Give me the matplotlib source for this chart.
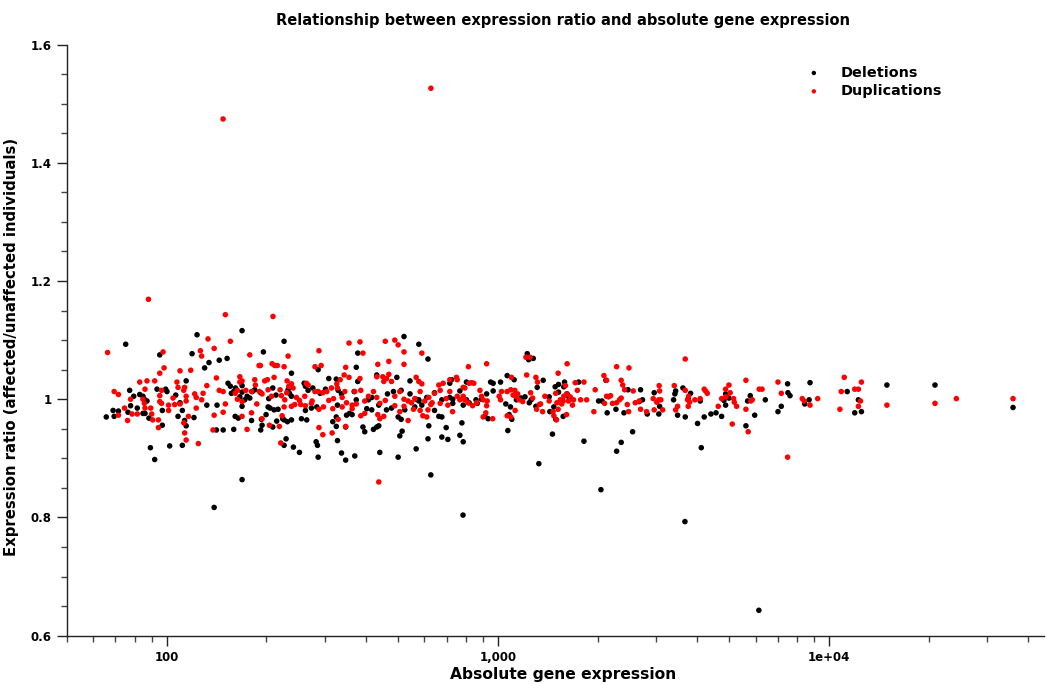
import matplotlib
matplotlib.use("Agg")
import matplotlib.pyplot as plt
from matplotlib.ticker import FixedLocator, FixedFormatter

# ---------------- data ----------------
# Deletions: absolute expression, expression ratio
del_expr = [
    65.7, 68.9, 69.4, 71.5, 75.2, 77.3, 77.8, 76.4, 79.5, 81.5, 82.9, 84.8, 85.6, 87.2, 84.8, 86.0,
    88.4, 89.3, 92.0, 93.5, 95.3, 97.0, 97.0, 99.3, 100.2, 102.1, 106.5, 108.2, 109.7, 111.5, 111.5,
    113.3, 114.5, 114.5, 119.3, 123.5, 120.9, 130.2, 134.2, 132.2, 141.9, 144.1, 152.2, 139.1, 141.3,
    148.1, 153.2, 155.7, 156.8, 159.4, 159.4, 161.4, 168.9, 168.9, 168.9, 168.9, 172.1, 166.3, 161.0,
    164.5, 168.9, 174.9, 178.2, 180.4, 181.5,
    226.2, 195.9, 286.7, 373.7, 377.6, 520.8, 577.3, 615.2, 238.1, 308.7, 325.2, 377.6, 430.9, 495.4,
    542.9, 716.1, 724.4,
    184.5, 192.3, 203.3, 209.1, 213.9, 232.6, 234.8, 238.1, 260.0, 262.4, 267.3, 276.2, 290.7, 301.7,
    329.4, 337.2, 368.2, 373.7, 406.7, 416.2, 464.3, 484.0, 510.5, 542.9, 566.7, 577.3, 610.3, 643.8,
    677.5, 716.1, 731.1,
    193.2, 199.6, 202.4, 205.2, 211.0, 216.9, 224.1, 231.5, 238.1, 255.2, 262.4, 264.8, 273.6, 284.0,
    317.4, 327.9, 325.2, 349.2, 356.5, 363.1, 402.0, 416.2, 437.0, 461.1, 477.4, 500.0, 510.5, 523.6,
    561.4, 577.3, 589.5, 643.8, 663.5, 677.5, 731.1,
    194.1, 209.1, 214.9, 226.2, 325.2, 347.1, 391.4, 396.4, 421.1, 430.9, 437.0, 514.0, 505.8, 618.8,
    698.3, 229.4, 226.2, 241.4, 251.7, 282.7, 285.3, 327.9, 286.7, 337.2, 347.1, 369.8, 440.1, 500.0,
    566.7, 615.2, 677.5, 706.4, 627.5, 192.3,
    1227, 1279, 1239, 1067, 1120, 951, 968, 1019, 804, 768, 786, 804, 819, 859, 867, 893, 925, 968,
    914, 935, 1057, 1092, 1102, 1082, 1138, 1175, 1208, 1244, 1261, 1303, 1315, 1371, 1429, 1436,
    1476, 1496, 1490, 1525, 1525, 1590, 1582, 1619, 1636, 1575, 1754, 2015, 2063, 2120, 2139, 2273,
    2472, 2698, 2735, 2673, 2404, 2826, 779, 768, 786, 1072, 1462, 1820, 2553, 2358, 2284, 1330, 2048,
    2966, 3080, 3063, 3394, 3425, 3443, 3490, 3622, 3681, 3820, 3758, 4084, 4010, 4200, 4401, 4560,
    4740, 4115, 4874, 4988, 4874, 4816, 5613, 5680, 5785, 5966, 6422, 7015, 7178, 7500, 7516, 7627,
    8451, 8710, 8765,
    11350, 12270, 11960, 12530, 14960, 20900, 35960,
    785, 3673, 6141,
]
del_ratio = [
    0.970, 0.981, 0.971, 0.980, 1.093, 1.015, 0.989, 0.978, 1.005, 0.985, 1.008, 1.005, 1.000, 0.997, 0.976, 0.976,
    0.968, 0.918, 0.898, 1.017, 1.075, 0.981, 0.956, 1.017, 1.013, 0.921, 1.007, 0.971, 0.994, 0.981, 0.922,
    0.964, 0.955, 1.031, 1.077, 1.109, 0.969, 1.053, 1.062, 0.990, 0.990, 1.066, 1.069, 0.817, 0.948,
    0.948, 1.027, 1.022, 1.010, 0.949, 1.013, 1.019, 1.116, 1.023, 1.012, 0.988, 0.999, 1.004, 0.971,
    0.968, 0.864, 1.005, 1.002, 0.964, 1.013,
    1.098, 1.080, 1.050, 1.054, 1.078, 1.106, 1.093, 1.068, 1.044, 1.035, 1.034, 1.030, 1.041, 1.037,
    1.031, 1.027, 1.033,
    1.016, 1.011, 1.001, 1.019, 1.007, 1.016, 1.010, 1.005, 1.027, 1.022, 1.015, 1.019, 1.010, 1.017,
    1.015, 1.009, 1.013, 0.999, 0.999, 1.003, 1.009, 1.013, 1.015, 1.009, 1.000, 0.997, 1.003, 1.011,
    0.999, 1.003, 1.000,
    0.966, 0.974, 0.987, 0.985, 0.982, 0.983, 0.967, 0.962, 0.965, 0.967, 0.981, 0.965, 0.985, 0.987,
    0.962, 0.990, 0.970, 0.973, 0.976, 0.974, 0.984, 0.982, 0.990, 0.982, 0.985, 0.970, 0.966, 0.982,
    0.987, 0.999, 0.990, 0.981, 0.971, 0.970, 0.993,
    0.956, 0.953, 0.963, 0.965, 0.954, 0.953, 0.953, 0.945, 0.949, 0.953, 0.955, 0.946, 0.938, 0.955,
    0.952, 0.933, 0.922, 0.919, 0.910, 0.928, 0.922, 0.930, 0.902, 0.909, 0.897, 0.904, 0.910, 0.902,
    0.916, 0.933, 0.936, 0.932, 0.872, 0.948,
    1.077, 1.069, 1.067, 1.040, 1.033, 1.029, 1.027, 1.029, 1.029, 1.014, 0.990, 0.999, 0.994, 0.999, 0.993, 1.000, 1.009, 1.014,
    0.971, 0.967, 0.992, 0.987, 0.966, 0.974, 0.999, 1.002, 1.004, 0.994, 0.999, 0.988, 1.020, 1.032, 1.004, 0.979,
    0.987, 0.966, 1.021, 1.025, 1.012, 1.029, 1.021, 1.009, 1.004, 0.971, 1.029, 0.997, 0.997, 1.032, 0.977, 0.983,
    1.016, 1.016, 0.999, 0.996, 0.977, 0.975, 0.960, 0.939, 0.928, 0.947, 0.941, 0.929, 0.945, 0.927, 0.912, 0.891, 0.847,
    1.011, 0.988, 0.975, 0.999, 1.009, 1.014, 0.973, 1.019, 0.970, 1.010, 1.001, 0.997, 0.959, 0.970, 0.975, 0.977,
    0.971, 0.918, 1.009, 1.002, 0.990, 0.998, 0.955, 0.997, 1.006, 0.973, 0.999, 0.979, 0.988, 1.026, 1.011, 1.006,
    0.992, 0.999, 1.028,
    1.013, 0.999, 0.977, 0.979, 1.024, 1.024, 0.986,
    0.804, 0.793, 0.643,
]

# Duplications: absolute expression, expression ratio
dup_expr = [
    88.1, 66.3, 69.4, 71.5, 71.5, 76.2, 74.6, 77.8, 78.6, 81.5, 82.9, 86.0, 87.2, 84.8, 85.6, 86.0,
    89.5, 90.1, 90.7, 92.0, 95.3, 97.5, 98.2, 94.4, 94.4, 95.3, 96.5, 96.5, 95.3, 101.3, 101.3, 104.5,
    105.7, 107.4, 108.2, 109.7, 109.7, 112.6, 113.3, 114.5, 114.5, 112.6, 113.3, 114.5, 116.3, 118.2,
    121.5, 122.8, 122.8, 124.6, 126.4, 127.5, 127.5, 128.8, 132.2, 133.3, 139.1, 139.1, 141.3, 138.0,
    144.1, 148.1, 148.1, 150.4, 150.4, 155.7, 161.0, 163.5, 163.5, 166.3, 166.3, 168.9, 168.9, 168.9,
    173.3, 174.9, 178.2, 180.4, 180.4, 185.3, 190.1,
    148.0, 628, 209.4,
    355.3, 383.4, 457.3, 488.5, 500.0, 288.3, 232.6, 391.4, 520.8, 589.5, 191.9, 208.1, 212.0, 215.9,
    226.2, 280.4, 292.7, 347.1, 434.0, 468.6, 520.8,
    184.5, 197.7, 201.4, 211.0, 231.0, 238.1, 240.8, 343.5, 334.1, 355.3, 383.4, 326.4, 327.9, 314.5,
    264.2, 267.3, 430.9, 449.4, 461.1, 468.6, 477.4, 452.5, 566.7, 577.3, 589.5, 663.5, 683.8, 716.1,
    190.5, 194.1, 202.4, 207.2, 220.0, 222.0, 227.3, 230.4, 233.7, 246.5, 251.7, 261.2, 274.9, 280.4,
    286.7, 296.1, 304.5, 308.7, 318.9, 338.8, 345.1, 349.2, 363.1, 369.8, 385.6, 396.4, 406.7, 421.1,
    430.9, 440.1, 457.3, 488.5, 505.8, 520.8, 535.9, 548.6, 561.4, 582.6, 601.9, 618.8, 633.4, 643.8,
    669.7, 698.3, 716.1,
    187.1, 194.1, 204.3, 218.9, 223.1, 226.2, 238.1, 243.6, 254.0, 262.4, 273.6, 288.3, 297.5, 317.4,
    329.4, 338.8, 363.1, 373.7, 385.6, 396.4, 434.0, 440.1, 452.5, 488.5, 505.8, 520.8, 535.9, 556.3,
    582.6, 593.6, 610.3, 615.2, 627.5, 669.7, 706.4,
    288.3, 296.1, 316.0, 347.1, 221.0, 437.0,
    815, 925, 750, 754, 730, 786, 795, 819, 833, 846, 754, 768, 786, 795, 813, 839, 863, 883, 893, 903,
    925, 929, 903, 920, 965, 1009, 1019, 1026, 1067, 1094, 1099, 1112, 1125, 1133, 1148, 1159, 1189,
    1222, 1067, 1094, 1128, 1216, 1250, 1303, 1318, 1256, 1274, 1334, 1346, 1309, 1365, 1387, 1429,
    1521, 1469, 1476, 1503, 1496, 1508, 1521, 1544, 1559, 1575, 1582, 1600, 1613, 1634, 1654, 1680,
    1693, 1619, 1738, 1713, 1820, 1778, 1854, 1613, 1968, 1950, 2091, 2130, 2100, 2130, 2160, 2190,
    2220, 2284, 2330, 2358, 2284, 2489, 2358, 2383, 2415, 2564, 2483, 2460, 2600, 2673, 2698, 2813,
    3681, 3070, 3080, 2946, 3020, 3063, 3107, 2966, 3145, 3410, 3490, 3443, 3681, 3767, 3741, 3794,
    3758, 3936, 4084, 4200, 4290, 4240, 4630, 4740, 4874, 4988, 5031, 4887, 5152, 5176, 5260, 5105,
    5613, 5613, 5702, 5810, 5865, 6156, 6280, 7015, 7178, 7500, 8303, 8418, 8765, 9246,
    11120, 10890, 10790, 11960, 12270, 12530, 12450, 12270, 14960, 20900, 24250, 35960,
]
dup_ratio = [
    1.169, 1.079, 1.013, 1.008, 0.973, 0.964, 0.985, 1.000, 0.975, 0.975, 1.029, 1.017, 1.031, 1.000, 0.993, 0.985,
    0.985, 0.975, 0.965, 1.031, 1.044, 1.080, 1.053, 0.965, 0.952, 1.006, 1.015, 0.993, 0.996, 0.990, 0.981, 1.002,
    0.991, 1.029, 1.020, 1.048, 0.992, 1.015, 1.020, 1.005, 0.997, 0.960, 0.943, 0.931, 0.971, 1.049,
    1.009, 1.003, 0.985, 0.925, 1.082, 1.073, 0.999, 1.010, 1.023, 1.102, 1.086, 0.973, 1.036, 0.948,
    1.015, 1.013, 0.978, 0.992, 1.143, 1.098, 1.010, 1.015, 1.000, 1.038, 1.029, 1.031, 0.971, 0.996,
    1.015, 0.949, 1.075, 1.013, 0.977, 1.024, 1.057,
    1.474, 1.526, 1.140,
    1.095, 1.097, 1.098, 1.100, 1.092, 1.082, 1.073, 1.078, 1.080, 1.078, 1.057, 1.060, 1.057, 1.057,
    1.055, 1.055, 1.057, 1.054, 1.059, 1.064, 1.059,
    1.033, 1.031, 1.033, 1.037, 1.031, 1.026, 1.019, 1.041, 1.033, 1.037, 1.035, 1.026, 1.019, 1.019,
    1.027, 1.024, 1.038, 1.038, 1.035, 1.042, 1.030, 1.030, 1.037, 1.030, 1.026, 1.024, 1.027, 1.033,
    1.013, 1.009, 1.016, 1.005, 1.016, 1.006, 0.999, 1.011, 1.022, 1.003, 0.998, 1.005, 0.997, 1.013,
    1.013, 1.011, 1.013, 0.998, 1.001, 1.003, 1.013, 0.994, 0.990, 1.013, 1.015, 0.997, 1.005, 1.013,
    1.003, 0.993, 0.998, 1.005, 1.013, 1.000, 0.997, 0.994, 1.001, 1.013, 0.997, 1.003, 0.994, 1.010,
    1.015, 1.001, 1.013,
    0.992, 0.967, 0.956, 0.954, 0.972, 0.987, 0.988, 0.991, 0.991, 0.989, 0.993, 0.983, 0.987, 0.984,
    0.966, 0.987, 0.984, 0.992, 0.972, 0.976, 0.974, 0.967, 0.971, 0.989, 0.979, 0.988, 0.964, 0.983,
    0.981, 0.972, 0.970, 0.982, 0.991, 0.993, 0.990,
    0.952, 0.940, 0.943, 0.954, 0.926, 0.860,
    1.055, 1.060, 1.037, 1.033, 0.979, 1.020, 1.019, 1.027, 1.028, 1.027, 1.005, 0.999, 1.005, 0.999, 0.994, 0.989, 0.994, 1.015, 1.005, 0.999,
    0.989, 0.997, 0.970, 0.977, 0.967, 1.005, 0.999, 1.013, 1.013, 1.016, 1.037, 1.007, 1.015, 1.005, 1.009, 0.999, 0.996,
    1.041, 0.972, 0.970, 0.981, 1.071, 1.071, 1.037, 1.029, 1.011, 1.002, 0.991, 0.992, 0.983, 0.979, 1.005, 0.997,
    1.044, 0.979, 0.972, 0.965, 1.010, 0.994, 0.983, 0.999, 0.992, 0.997, 1.005, 1.023, 1.009, 0.997, 1.004, 0.990,
    0.999, 1.060, 1.015, 1.028, 1.029, 0.999, 0.999, 0.974, 1.016, 0.979, 1.040, 1.032, 0.993, 1.005, 1.004, 1.006,
    0.993, 0.994, 0.999, 1.002, 1.055, 1.053, 1.032, 1.024, 1.016, 1.014, 0.979, 0.991, 0.994, 0.997, 0.983, 0.979,
    1.068, 1.023, 1.014, 1.001, 0.995, 0.999, 0.999, 0.982, 0.982, 1.023, 0.988, 0.982, 1.015, 1.005, 0.999, 0.995,
    0.988, 0.999, 1.001, 1.017, 1.010, 1.014, 0.988, 1.001, 1.017, 1.024, 1.011, 1.004, 1.001, 0.995, 0.988, 0.958,
    1.032, 0.983, 0.945, 0.997, 0.999, 1.017, 1.017, 1.029, 1.010, 0.902, 1.001, 0.997, 0.990, 1.001,
    1.037, 1.013, 0.983, 1.017, 1.017, 1.029, 0.997, 0.988, 0.990, 0.993, 1.001, 1.001,
]

series_names = ["Deletions", "Duplications"]
series_colors = ["#000000", "#ff0000"]

y_ticks = [0.6, 0.8, 1.0, 1.2, 1.4, 1.6]
y_tick_labels = ["0.6", "0.8", "1", "1.2", "1.4", "1.6"]
x_ticks = [100, 1000, 10000]
x_tick_labels = ["100", "1,000", "1e+04"]

title = "Relationship between expression ratio and absolute gene expression"
x_label = "Absolute gene expression"
y_label = "Expression ratio (affected/unaffected individuals)"

# ---------------- figure ----------------
W, H = 1046, 684
plt.rcParams["font.family"] = ["DejaVu Sans"]
fig = plt.figure(figsize=(W / 100, H / 100), dpi=100)
ax = fig.add_axes([67 / W, (H - 635.7) / H, 977 / W, (635.7 - 44.5) / H])

for xs, ys, name, col in [(del_expr, del_ratio, series_names[0], series_colors[0]),
                          (dup_expr, dup_ratio, series_names[1], series_colors[1])]:
    ax.scatter(xs, ys, s=16, c=col, edgecolors="none", label=name, zorder=3)

ax.set_xscale("log")
ax.set_xlim(50, 44600)
ax.set_ylim(0.6, 1.6)

for s in ["top", "right"]:
    ax.spines[s].set_visible(False)
for s in ["left", "bottom"]:
    ax.spines[s].set_linewidth(1.0)
    ax.spines[s].set_color("#222222")

ax.yaxis.set_major_locator(FixedLocator(y_ticks))
ax.yaxis.set_major_formatter(FixedFormatter(y_tick_labels))
ax.yaxis.set_minor_locator(FixedLocator([0.6 + 0.05 * i for i in range(21)]))

ax.xaxis.set_major_locator(FixedLocator(x_ticks))
ax.xaxis.set_major_formatter(FixedFormatter(x_tick_labels))
minor_x = [m * d for d in (10, 100, 1000, 10000) for m in range(2, 10) if 50 <= m * d <= 44600]
ax.xaxis.set_minor_locator(FixedLocator(minor_x))
ax.xaxis.set_minor_formatter(FixedFormatter([""] * len(minor_x)))

ax.tick_params(axis="both", which="major", direction="out", length=7, width=1.0,
               color="#222222", labelsize=8.5, pad=4)
ax.tick_params(axis="both", which="minor", direction="out", length=4, width=1.0, color="#444444")
for lab in ax.get_xticklabels() + ax.get_yticklabels():
    lab.set_fontweight("bold")

fig.text(563 / W, 1 - 20 / H, title, ha="center", va="center", fontsize=10.5, fontweight="bold")
fig.text(563 / W, 1 - 675 / H, x_label, ha="center", va="center", fontsize=11.2, fontweight="bold")
fig.text(12 / W, 1 - 347 / H, y_label, ha="center", va="center", rotation=90,
         fontsize=10.7, fontweight="bold")

leg = ax.legend(loc="upper left", bbox_to_anchor=(793.6 / W, 1 - 60 / H),
                bbox_transform=fig.transFigure, frameon=False, handlelength=2.0,
                handletextpad=0.87, labelspacing=0.3, borderaxespad=0, scatterpoints=1,
                markerscale=0.8, prop={"weight": "bold", "size": 10.4})

fig.savefig("out.png", dpi=100)
